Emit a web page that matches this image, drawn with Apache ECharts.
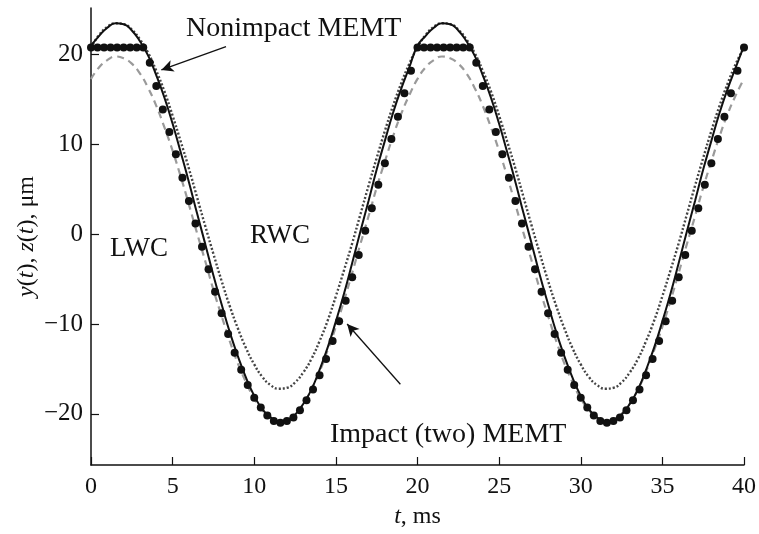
<!DOCTYPE html>
<html>
<head>
<meta charset="utf-8">
<script src="https://cdn.jsdelivr.net/npm/echarts@6/dist/echarts.min.js"></script>
<style>
  html, body { margin: 0; padding: 0; background: #fff; }
  #chart { width: 759px; height: 534px; }
</style>
</head>
<body>
<div id="chart"></div>
<script>
// time grid for the curves (ms) and for the impact dots (ms)
var tLine = [0,0.5,1,1.5,2,2.5,3,3.5,4,4.5,5,5.5,6,6.5,7,7.5,8,8.5,9,9.5,
  10,10.5,11,11.5,12,12.5,13,13.5,14,14.5,15,15.5,16,16.5,17,17.5,18,18.5,19,19.5,
  20,20.5,21,21.5,22,22.5,23,23.5,24,24.5,25,25.5,26,26.5,27,27.5,28,28.5,29,29.5,
  30,30.5,31,31.5,32,32.5,33,33.5,34,34.5,35,35.5,36,36.5,37,37.5,38,38.5,39,39.5,40];
var tDots = [0,0.4,0.8,1.2,1.6,2,2.4,2.8,3.2,3.6,4,4.4,4.8,5.2,5.6,6,6.4,6.8,7.2,7.6,
  8,8.4,8.8,9.2,9.6,10,10.4,10.8,11.2,11.6,12,12.4,12.8,13.2,13.6,14,14.4,14.8,15.2,15.6,
  16,16.4,16.8,17.2,17.6,18,18.4,18.8,19.2,19.6,
  20,20.4,20.8,21.2,21.6,22,22.4,22.8,23.2,23.6,24,24.4,24.8,25.2,25.6,26,26.4,26.8,27.2,27.6,
  28,28.4,28.8,29.2,29.6,30,30.4,30.8,31.2,31.6,32,32.4,32.8,33.2,33.6,34,34.4,34.8,35.2,35.6,
  36,36.4,36.8,37.2,37.6,38,38.4,38.8,39.2,39.6,40];

// nonimpact MEMT (solid)
var ySolid = [21.0,22.1,23.0,23.5,23.4,22.7,21.5,19.9,17.7,15.2,12.3,9.1,5.8,2.3,-1.1,-4.6,-7.8,-10.9,-13.6,-16.0,
  -18.0,-19.5,-20.4,-20.9,-20.8,-20.1,-18.9,-17.3,-15.1,-12.6,-9.7,-6.6,-3.2,0.3,3.7,7.2,10.4,13.5,16.2,18.6,
  21.0,22.1,23.0,23.5,23.4,22.7,21.5,19.9,17.7,15.2,12.3,9.1,5.8,2.3,-1.1,-4.6,-7.8,-10.9,-13.6,-16.0,
  -18.0,-19.5,-20.4,-20.9,-20.8,-20.1,-18.9,-17.3,-15.1,-12.6,-9.7,-6.6,-3.2,0.3,3.7,7.2,10.4,13.5,16.2,18.6,21.0];
// grey dashed curve
var yDashed = [17.3,18.6,19.4,19.8,19.6,19.0,17.9,16.3,14.3,11.9,9.3,6.4,3.3,0.1,-3.0,-6.2,-9.1,-11.9,-14.4,-16.5,
  -18.3,-19.6,-20.4,-20.8,-20.6,-20.0,-18.9,-17.3,-15.3,-12.9,-10.3,-7.4,-4.3,-1.1,2.0,5.2,8.1,10.9,13.4,15.5,
  17.3,18.6,19.4,19.8,19.6,19.0,17.9,16.3,14.3,11.9,9.3,6.4,3.3,0.1,-3.0,-6.2,-9.1,-11.9,-14.4,-16.5,
  -18.3,-19.6,-20.4,-20.8,-20.6,-20.0,-18.9,-17.3,-15.3,-12.9,-10.3,-7.4,-4.3,-1.1,2.0,5.2,8.1,10.9,13.4,15.5,17.3];
// dark dotted curve
var yDotted = [20.8,22.2,23.1,23.5,23.4,22.8,21.7,20.2,18.2,15.9,13.2,10.3,7.3,4.1,0.9,-2.2,-5.2,-8.0,-10.5,-12.7,
  -14.5,-15.9,-16.8,-17.2,-17.1,-16.5,-15.4,-13.9,-11.9,-9.6,-6.9,-4.0,-1.0,2.2,5.4,8.5,11.5,14.3,16.8,19.0,
  20.8,22.2,23.1,23.5,23.4,22.8,21.7,20.2,18.2,15.9,13.2,10.3,7.3,4.1,0.9,-2.2,-5.2,-8.0,-10.5,-12.7,
  -14.5,-15.9,-16.8,-17.2,-17.1,-16.5,-15.4,-13.9,-11.9,-9.6,-6.9,-4.0,-1.0,2.2,5.4,8.5,11.5,14.3,16.8,19.0,20.8];
// impact (two) MEMT dots
var yDots = [20.8,20.8,20.8,20.8,20.8,20.8,20.8,20.8,20.8,19.1,16.5,13.9,11.4,8.9,6.3,3.7,1.2,-1.4,-3.9,-6.4,
  -8.8,-11.1,-13.2,-15.1,-16.8,-18.2,-19.3,-20.2,-20.8,-21.0,-20.8,-20.4,-19.6,-18.5,-17.3,-15.7,-13.9,-11.9,-9.7,-7.4,
  -4.8,-2.3,0.4,2.9,5.5,7.9,10.6,13.1,15.7,18.2,
  20.8,20.8,20.8,20.8,20.8,20.8,20.8,20.8,20.8,19.1,16.5,13.9,11.4,8.9,6.3,3.7,1.2,-1.4,-3.9,-6.4,
  -8.8,-11.1,-13.2,-15.1,-16.8,-18.2,-19.3,-20.2,-20.8,-21.0,-20.8,-20.4,-19.6,-18.5,-17.3,-15.7,-13.9,-11.9,-9.7,-7.4,
  -4.8,-2.3,0.4,2.9,5.5,7.9,10.6,13.1,15.7,18.2,20.8];

var yTicks = [-20, -10, 0, 10, 20];

function pairs(xs, ys) {
  return xs.map(function (x, i) { return [x, ys[i]]; });
}

var FONT = "'Liberation Serif', 'Times New Roman', serif";
var chart = echarts.init(document.getElementById("chart"));

var option = {
  animation: false,
  textStyle: { fontFamily: FONT, color: "#111" },
  grid: { left: 91, right: 12, top: 8, bottom: 69 },
  xAxis: {
    type: "value",
    min: 0,
    max: 40,
    interval: 5,
    name: "{i|t}, ms",
    nameLocation: "middle",
    nameGap: 40,
    nameMoveOverlap: false,
    nameTextStyle: {
      fontSize: 24, fontFamily: FONT, color: "#111",
      rich: { i: { fontStyle: "italic", fontSize: 24, fontFamily: FONT, color: "#111" } }
    },
    splitLine: { show: false },
    axisLine: { onZero: false, lineStyle: { color: "#111", width: 1.5 } },
    axisTick: { inside: true, length: 8, lineStyle: { color: "#111", width: 1.2 } },
    axisLabel: { fontSize: 24, fontFamily: FONT, color: "#111", margin: 10 }
  },
  yAxis: {
    type: "value",
    min: -25.7,
    max: 25.2,
    name: "{i|y}({i|t}), {i|z}({i|t}), μm",
    nameLocation: "middle",
    nameGap: 52,
    nameMoveOverlap: false,
    nameTextStyle: {
      fontSize: 24, fontFamily: FONT, color: "#111",
      rich: { i: { fontStyle: "italic", fontSize: 24, fontFamily: FONT, color: "#111" } }
    },
    splitLine: { show: false },
    axisLine: { onZero: false, lineStyle: { color: "#111", width: 1.5 } },
    axisTick: { inside: true, length: 8, customValues: yTicks, lineStyle: { color: "#111", width: 1.2 } },
    axisLabel: {
      fontSize: 25, fontFamily: FONT, color: "#111", margin: 8,
      customValues: yTicks,
      formatter: function (v) { return v < 0 ? "\u2212" + Math.abs(v) : String(v); }
    }
  },
  series: [
    {
      name: "grey dashed", type: "line", data: pairs(tLine, yDashed),
      showSymbol: false, smooth: true, z: 2,
      lineStyle: { color: "#9a9a9a", width: 2.2, type: [7, 5] }
    },
    {
      name: "dotted", type: "line", data: pairs(tLine, yDotted),
      showSymbol: false, smooth: true, z: 3,
      lineStyle: { color: "#444", width: 2.4, type: [2, 2] }
    },
    {
      name: "Nonimpact MEMT", type: "line", data: pairs(tLine, ySolid),
      showSymbol: false, smooth: true, z: 4,
      lineStyle: { color: "#111", width: 2 },
      markLine: {
        silent: true, symbol: ["none", "arrow"], symbolSize: [9, 12],
        label: { show: false },
        lineStyle: { color: "#111", width: 1.3, type: "solid" },
        data: [
          [{ coord: [8.27, 20.9] }, { coord: [4.31, 18.3] }],
          [{ coord: [18.95, -16.7] }, { coord: [15.69, -10.0] }]
        ]
      }
    },
    {
      name: "Impact (two) MEMT", type: "scatter", data: pairs(tDots, yDots),
      symbol: "circle", symbolSize: 8, z: 5,
      itemStyle: { color: "#111", opacity: 1 }
    }
  ],
  graphic: [
    { type: "text", left: 186, top: 15, style: { text: "Nonimpact MEMT", font: "28px " + FONT, fill: "#111" } },
    { type: "text", left: 110, top: 235, style: { text: "LWC", font: "27px " + FONT, fill: "#111" } },
    { type: "text", left: 250, top: 222, style: { text: "RWC", font: "27px " + FONT, fill: "#111" } },
    { type: "text", left: 330, top: 421, style: { text: "Impact (two) MEMT", font: "28px " + FONT, fill: "#111" } }
  ]
};

chart.setOption(option);
</script>
</body>
</html>
